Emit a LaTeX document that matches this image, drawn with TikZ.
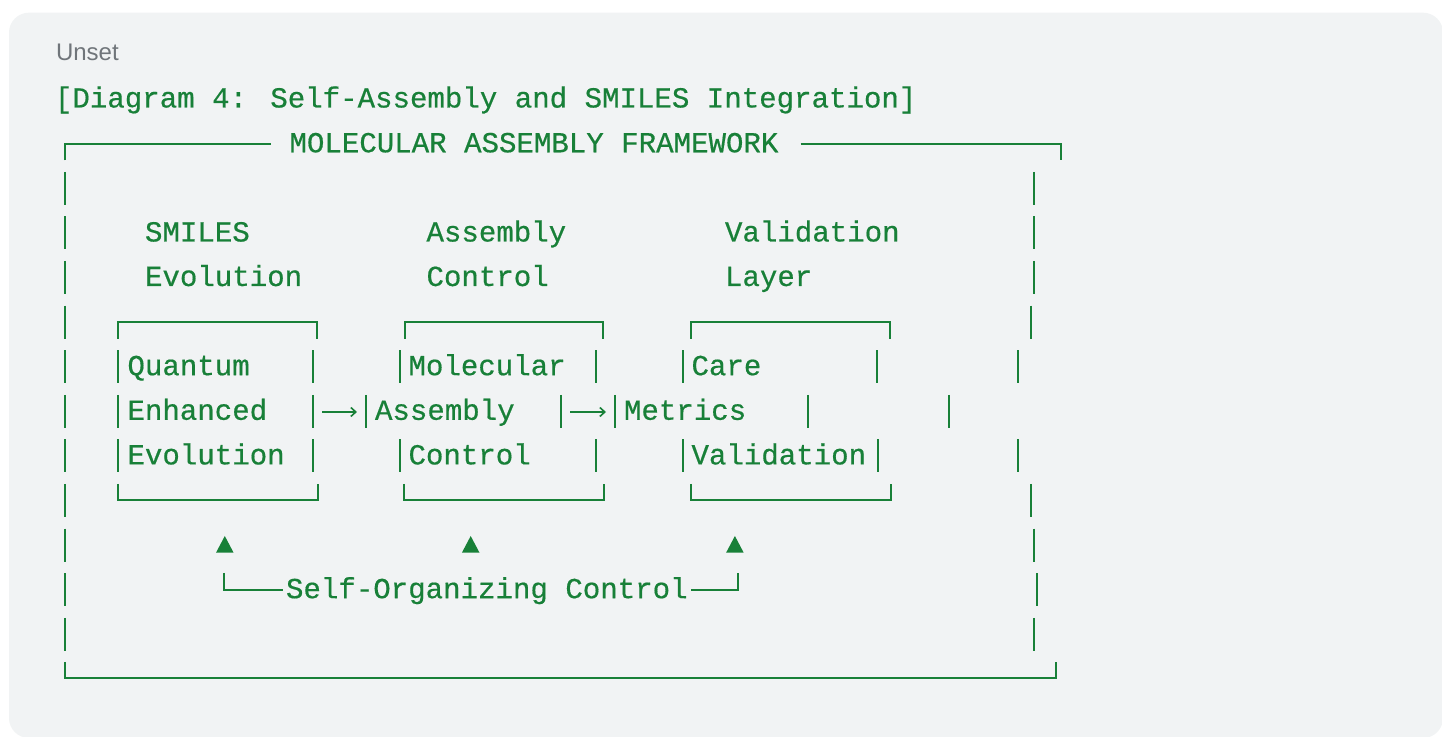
\documentclass[tikz,border=0pt]{standalone}
\usepackage{fontspec}
\setmainfont{Liberation Sans}
\newfontfamily\codefont[FakeBold=0.5]{Liberation Mono}
\usetikzlibrary{arrows.meta}
\definecolor{codegreen}{HTML}{188038}
\definecolor{codebg}{HTML}{F1F3F4}
\definecolor{labelgray}{HTML}{70757A}
\begin{document}
\begin{tikzpicture}[x=0.5pt,y=-0.5pt,
  code/.style={font=\codefont\fontsize{14.55pt}{17pt}\selectfont, text=codegreen, inner sep=0pt, outer sep=0pt, anchor=base west},
  lang/.style={font=\fontsize{12pt}{14pt}\selectfont, text=labelgray, inner sep=0pt, outer sep=0pt, anchor=base west},
  rule/.style={draw=codegreen, line width=1pt},
  flow/.style={draw=codegreen, line width=0.8pt, -{Straight Barb[length=2.5pt,width=4.5pt]}},
  tri/.style={fill=codegreen}]
\useasboundingbox (0,0) rectangle (1442,737);
\begin{scope}
  \clip (0,0) rectangle (1442,737);
  \fill[white] (0,0) rectangle (1442,737);
  \fill[codebg, rounded corners=10pt] (9,12.7) rectangle (1443,738);
\end{scope}

% texts
\node[lang] (unset) at (56,60.7) {Unset};
\node[code] (title) at (55,107.5) {[Diagram 4: Self-Assembly and SMILES Integration]};
\node[code] (frame) at (289.5,152.3) {MOLECULAR ASSEMBLY FRAMEWORK};
\node[code] (h1a) at (145,241.5) {SMILES};
\node[code] (h1b) at (145,286) {Evolution};
\node[code] (h2a) at (426.5,241.5) {Assembly};
\node[code] (h2b) at (426.5,286) {Control};
\node[code] (h3a) at (725,241.5) {Validation};
\node[code] (h3b) at (725,286) {Layer};
\node[code] (q1) at (127.5,375.2) {Quantum};
\node[code] (q2) at (127.5,419.8) {Enhanced};
\node[code] (q3) at (127.5,464.4) {Evolution};
\node[code] (m1) at (408.5,375.2) {Molecular};
\node[code] (m2) at (375,419.8) {Assembly};
\node[code] (m3) at (408.5,464.4) {Control};
\node[code] (v1) at (691.5,375.2) {Care};
\node[code] (v2) at (624,419.8) {Metrics};
\node[code] (v3) at (691.5,464.4) {Validation};
\node[code] (soc) at (286,598.2) {Self-Organizing Control};

% outer frame
\draw[rule] (65,160.3) -- (65,143.8) -- (271,143.8);
\draw[rule] (800.6,143.8) -- (1060.7,143.8) -- (1060.7,160.3);
\draw[rule] (65,662) -- (65,678.3) -- (1056,678.3) -- (1056,662);
\foreach \b in {196.9,241.5,286.0,330.6,375.2,419.8,464.4,509,553.6,598.2,642.8}
  {\draw[rule] (65,\b-25) -- (65,\b+8);}
\foreach \x/\b in {1034/196.9,1034/241.5,1034/286.0,1030.7/330.6,1018.3/375.2,949.3/419.8,1018.3/464.4,1031/509,1034/553.6,1037/598.2,1033.5/642.8}
  {\draw[rule] (\x,\b-25) -- (\x,\b+8);}

% inner boxes: tops and bottoms
\draw[rule] (118.3,338.6) -- (118.3,322.2) -- (316.7,322.2) -- (316.7,338.6);
\draw[rule] (404.5,338.6) -- (404.5,322.2) -- (603.3,322.2) -- (603.3,338.6);
\draw[rule] (691,338.6) -- (691,322.2) -- (890,322.2) -- (890,338.6);
\draw[rule] (118.3,484) -- (118.3,500.3) -- (317.8,500.3) -- (317.8,484);
\draw[rule] (404,484) -- (404,500.3) -- (604,500.3) -- (604,484);
\draw[rule] (690.6,484) -- (690.6,500.3) -- (891,500.3) -- (891,484);
% inner boxes: side pipes
\foreach \x/\b in {118.3/375.2,312.5/375.2,400/375.2,595.5/375.2,683.3/375.2,876.7/375.2,
                   118.3/419.8,313.3/419.8,366/419.8,560.6/419.8,615/419.8,808.3/419.8,
                   118.3/464.4,312.5/464.4,400/464.4,595.5/464.4,683.3/464.4,878.3/464.4}
  {\draw[rule] (\x,\b-25) -- (\x,\b+8);}

% flow arrows between boxes
\coordinate (a1s) at (322,412);
\coordinate (a1e) at (357,412);
\coordinate (a2s) at (570,412);
\coordinate (a2e) at (606,412);
\draw[flow] (a1s) -- (a1e);
\draw[flow] (a2s) -- (a2e);

% feedback triangles
\foreach \x in {224.8,470.7,734.9}
  {\fill[tri] (\x-8.8,552.7) -- (\x+8.8,552.7) -- (\x,536) -- cycle;}

% self-organizing control bracket
\coordinate (sl) at (224,573);
\coordinate (sr) at (737.5,573);
\draw[rule] (sl) -- (224,589.7) -- (283,589.7);
\draw[rule] (691,589.7) -- (737.5,589.7) -- (sr);
\end{tikzpicture}
\end{document}
